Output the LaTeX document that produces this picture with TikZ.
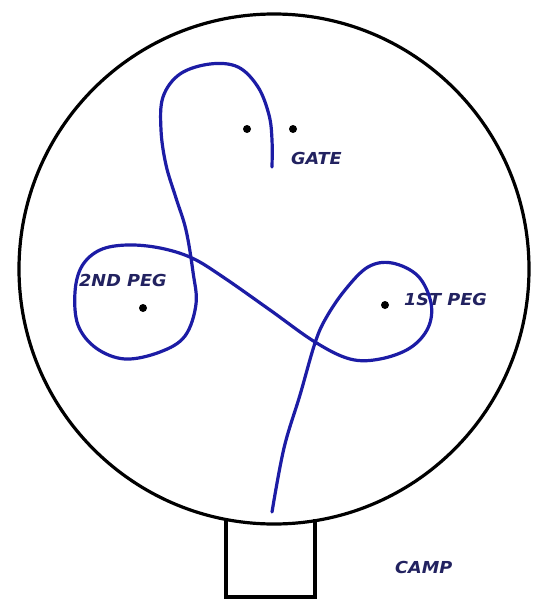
\documentclass[tikz,border=0pt]{standalone}
\usepackage{fontspec}
\newfontfamily\lblfont[FakeStretch=1.07]{DejaVu Sans Bold Oblique}
\definecolor{pathblue}{RGB}{28,28,165}
\definecolor{lblnavy}{RGB}{34,34,96}
\tikzset{
  ring/.style={draw=black, line width=3.2pt},
  route/.style={draw=pathblue, line width=3.2pt, line cap=round, line join=round},
  peg/.style={circle, fill=black, inner sep=0pt, minimum size=8pt},
  lbl/.style={anchor=west, inner sep=0pt, text=lblnavy, font=\lblfont\fontsize{16.5}{18}\selectfont},
}
\begin{document}
\begin{tikzpicture}[x=1pt,y=-1pt]
\useasboundingbox (0,0) rectangle (538,599);
\fill[white] (0,0) rectangle (538,599);
% big circle
\coordinate (c) at (274,269);
\draw[ring] (c) circle[radius=255];
% camp gate box
\coordinate (g1) at (226,518);
\coordinate (g2) at (226,597);
\coordinate (g3) at (315,597);
\coordinate (g4) at (315,519);
\draw[ring] (g1) -- (g2) -- (g3) -- (g4);
% pegs
\node[peg] (gateL) at (247,129) {};
\node[peg] (gateR) at (293,129) {};
\node[peg] (peg2) at (143,308) {};
\node[peg] (peg1) at (385,305) {};
% labels
\node[lbl] (tgate) at (291,158) {GATE};
\node[lbl] (tpeg2) at (79,280) {2ND PEG};
\node[lbl] (tpeg1) at (404,299) {1ST PEG};
\node[lbl] (tcamp) at (395,567) {CAMP};
% route
\draw[route] plot[smooth, tension=0.6] coordinates {
  (272,512) (284,448) (300,395) (315,343)
  (326,318) (345,290) (368,267) (392,263) (418,276)
  (431,303) (428,328) (410,348) (380,359) (350,359)
  (315,342) (270,310) (223,277) (192,258)
  (160,248) (127,245) (100,250) (82,266) (75,292) (78,325)
  (96,348) (125,359) (160,352) (185,336) (196,304)
  (193,272) (186,230) (176,198) (166,165) (161,130)
  (163,97) (180,74) (210,64) (238,67) (258,87)
  (269,115) (272,140) (272,167)
};
\end{tikzpicture}
\end{document}
